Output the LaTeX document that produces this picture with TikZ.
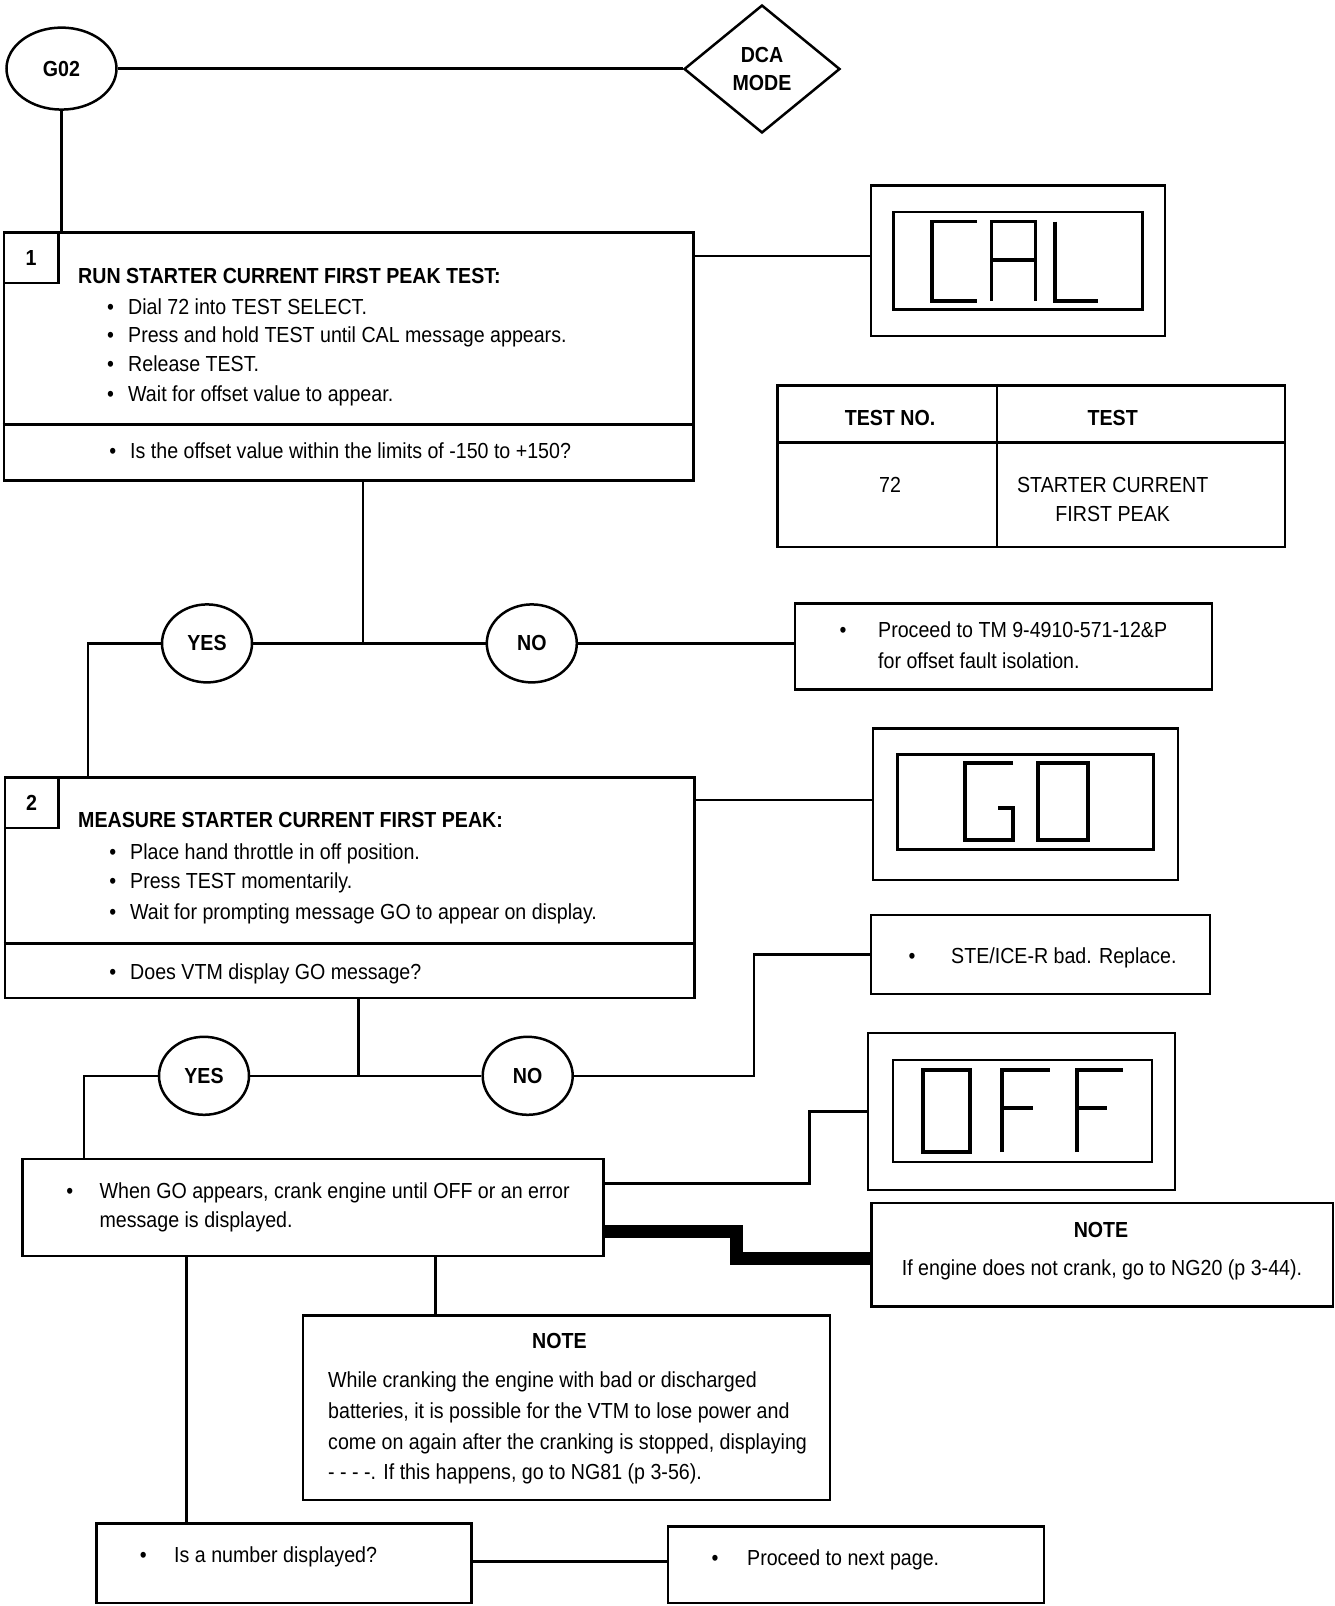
\documentclass[tikz,border=0pt]{standalone}
\usepackage{fontspec}
\setmainfont[FakeStretch=0.9]{Liberation Sans}
\usetikzlibrary{shapes.geometric}
\newcommand\myfs{\fontsize{21.8}{27.7}\selectfont}
\begin{document}
\begin{tikzpicture}[x=1pt,y=-1pt,
  bx/.style 2 args={draw, line width=2.6pt, inner sep=0pt, minimum width=#1pt, minimum height=#2pt},
  txt/.style={inner sep=0pt, anchor=mid west, font=\myfs, yshift=-5.2pt},
  hdr/.style={inner sep=0pt, anchor=mid west, font=\myfs\bfseries, yshift=-5.2pt},
  ctr/.style={inner sep=0pt, anchor=mid, font=\myfs, yshift=-5.2pt},
  ctrb/.style={inner sep=0pt, anchor=mid, font=\myfs\bfseries, yshift=-5.2pt},
  bul/.style={inner sep=0pt, anchor=mid, font=\myfs, yshift=-5.2pt},
  ell/.style={draw, ellipse, line width=2.5pt, inner sep=0pt, minimum width=90pt, minimum height=78pt, font=\myfs\bfseries},
  ln/.style={line width=2.4pt},
  seg/.style={line width=3.4pt, line join=miter},
  thick/.style={line width=13pt, line join=miter}]
\useasboundingbox (0,0) rectangle (1335,1606);
\fill[white] (0,0) rectangle (1335,1606);

% --- top
\node[ell, minimum width=110pt, minimum height=82pt] (g02) at (61.5,68.6) {G02};
\node[draw, diamond, aspect=1.22, line width=2.5pt, inner sep=0pt, minimum width=156pt, minimum height=128pt, align=center, font=\myfs\bfseries] (dca) at (762,69) {DCA\\MODE};
\draw[ln] (g02.east) -- (g02.east -| dca.west);

% --- box 1
\node[bx={689.6}{247.9}] (b1) at (348.8,356.55) {};
\node[bx={54.4}{50.2}, font=\myfs\bfseries] (n1) at (31.2,257.7) {1};
\coordinate (d1) at (0,424.2);
\draw[line width=2.6pt] (b1.west |- d1) -- (b1.east |- d1);
\draw[ln] (g02.south) -- (g02.south |- b1.north);
\node[hdr] (h1) at (78,275.6) {RUN STARTER CURRENT FIRST PEAK TEST:};
\node[bul] (b1a) at (110.6,306.4) {\textbullet};
\node[txt] (t1a) at (128,306.4) {Dial 72 into TEST SELECT.};
\node[bul] (b1b) at (110.6,335) {\textbullet};
\node[txt] (t1b) at (128,335) {Press and hold TEST until CAL message appears.};
\node[bul] (b1c) at (110.6,363.7) {\textbullet};
\node[txt] (t1c) at (128,363.7) {Release TEST.};
\node[bul] (b1d) at (110.6,393.5) {\textbullet};
\node[txt] (t1d) at (128,393.5) {Wait for offset value to appear.};
\node[bul] (b1e) at (112.7,450.8) {\textbullet};
\node[txt] (t1e) at (130,450.8) {Is the offset value within the limits of -150 to +150?};

% --- CAL display
\node[bx={294}{150.5}] (cal) at (1018,260.75) {};
\node[bx={249}{97.4}] (calin) at (1018,260.7) {};
\draw[seg] (977,221.6) -- (932,221.6) -- (932,301) -- (977,301);
\draw[seg] (991.4,301) -- (991.4,221.6) -- (1035.5,221.6) -- (1035.5,301);
\draw[seg] (991.4,260) -- (1035.5,260);
\draw[seg] (1055,221.6) -- (1055,301) -- (1097.5,301);
\coordinate (c1) at (0,256.2);
\draw[ln] (b1.east |- c1) -- (cal.west |- c1);

% --- table
\node[bx={507.1}{161.9}] (tab) at (1031.25,466.15) {};
\coordinate (tc) at (997,0);
\coordinate (tr) at (0,442.6);
\draw[line width=2.4pt] (tab.north -| tc) -- (tab.south -| tc);
\draw[line width=2.4pt] (tab.west |- tr) -- (tab.east |- tr);
\node[ctrb] (th1) at (890,418) {TEST NO.};
\node[ctrb] (th2) at (1112.7,418) {TEST};
\node[ctr] (td1) at (890,484.6) {72};
\node[ctr] (td2) at (1112.7,484.6) {STARTER CURRENT};
\node[ctr] (td3) at (1112.7,514) {FIRST PEAK};

% --- branch 1
\coordinate (j1) at (362.7,643.4);
\coordinate (k1) at (88,643.4);
\node[ell] (yes1) at (207,643.4) {YES};
\node[ell] (no1) at (531.8,643.4) {NO};
\draw[ln] (b1.south -| j1) -- (j1);
\draw[ln] (yes1.east) -- (no1.west);
\node[bx={417}{86.1}] (tm) at (1003.5,646.55) {};
\draw[ln] (no1.east) -- (no1.east -| tm.west);
\node[bul] (btm) at (843,630) {\textbullet};
\node[txt] (ttm1) at (878,630) {Proceed to TM 9-4910-571-12\&P};
\node[txt] (ttm2) at (878,661) {for offset fault isolation.};

% --- box 2
\node[bx={689.7}{220.3}] (b2) at (349.85,887.85) {};
\node[bx={53.4}{50.3}, font=\myfs\bfseries] (n2) at (31.7,802.85) {2};
\coordinate (d2) at (0,943.7);
\draw[line width=2.6pt] (b2.west |- d2) -- (b2.east |- d2);
\draw[ln] (yes1.west) -- (k1) -- (k1 |- b2.north);
\node[hdr] (h2) at (78,819.7) {MEASURE STARTER CURRENT FIRST PEAK:};
\node[bul] (b2a) at (112.7,851.4) {\textbullet};
\node[txt] (t2a) at (130,851.4) {Place hand throttle in off position.};
\node[bul] (b2b) at (112.7,881) {\textbullet};
\node[txt] (t2b) at (130,881) {Press TEST momentarily.};
\node[bul] (b2c) at (112.7,912) {\textbullet};
\node[txt] (t2c) at (130,912) {Wait for prompting message GO to appear on display.};
\node[bul] (b2d) at (112.7,971.3) {\textbullet};
\node[txt] (t2d) at (130,971.3) {Does VTM display GO message?};

% --- GO display
\node[bx={305}{151.5}] (go) at (1025.5,804.25) {};
\node[bx={256}{95}] (goin) at (1025.5,802) {};
\draw[seg] (1013,763) -- (965,763) -- (965,840) -- (1013,840) -- (1013,808) -- (998,808);
\draw[seg] (1038,763) rectangle (1088,840);
\coordinate (c2) at (0,800);
\draw[ln] (b2.east |- c2) -- (go.west |- c2);

% --- branch 2
\coordinate (j2) at (358.6,1075.8);
\coordinate (k2) at (84,1075.8);
\coordinate (m2) at (754,1075.8);
\node[ell] (yes2) at (204,1075.8) {YES};
\node[ell] (no2) at (527.7,1075.8) {NO};
\draw[ln] (b2.south -| j2) -- (j2);
\draw[ln] (yes2.east) -- (no2.west);
\node[bx={339}{79}] (ste) at (1040.5,954.5) {};
\draw[ln] (no2.east) -- (m2) |- (ste.west);
\node[bul] (bste) at (912,956) {\textbullet};
\node[txt] (tste) at (951,956) {STE/ICE-R bad. Replace.};

% --- OFF display
\node[bx={307}{157}] (off) at (1021.5,1111.5) {};
\node[bx={259}{102}] (offin) at (1022.5,1111) {};
\draw[seg] (923,1070) rectangle (970,1152);
\draw[seg] (1002,1152) -- (1002,1070) -- (1050,1070);
\draw[seg] (1002,1108) -- (1033,1108);
\draw[seg] (1077,1152) -- (1077,1070) -- (1123,1070);
\draw[seg] (1077,1108) -- (1107,1108);

% --- box 3
\node[bx={581}{97}] (b3) at (313,1207.5) {};
\draw[ln] (yes2.west) -- (k2) -- (k2 |- b3.north);
\node[bul] (b3a) at (69.7,1190.6) {\textbullet};
\node[txt] (t3a) at (99.4,1190.6) {When GO appears, crank engine until OFF or an error};
\node[txt] (t3b) at (99.4,1219.3) {message is displayed.};
\coordinate (r1) at (809.4,1183.4);
\draw[ln] (b3.east |- r1) -- (r1) |- (off.west);

% --- NOTE 1
\node[bx={461.3}{103.7}] (note1) at (1102.35,1254.85) {};
\node[ctrb] (nt1) at (1101,1229.5) {NOTE};
\node[ctr] (nt1b) at (1102,1267.4) {If engine does not crank, go to NG20 (p 3-44).};
\coordinate (q1) at (736,1231);
\coordinate (q2) at (736,1258);
\draw[thick] (b3.east |- q1) -- (q1) -- (q2) -- (q2 -| note1.west);

% --- NOTE 2
\coordinate (s1) at (186.5,0);
\coordinate (s2) at (435.5,0);
\node[bx={527}{184.4}] (note2) at (566.5,1407.8) {};
\draw[ln] (b3.south -| s2) -- (note2.north -| s2);
\node[ctrb] (nt2) at (559.4,1341) {NOTE};
\node[txt] (nt2a) at (328,1380) {While cranking the engine with bad or discharged};
\node[txt] (nt2b) at (328,1411) {batteries, it is possible for the VTM to lose power and};
\node[txt] (nt2c) at (328,1441.6) {come on again after the cranking is stopped, displaying};
\node[txt] (nt2d) at (328,1472) {- - - -. If this happens, go to NG81 (p 3-56).};

% --- bottom
\node[bx={375}{79.4}] (isnum) at (283.8,1563.3) {};
\draw[ln] (b3.south -| s1) -- (isnum.north -| s1);
\node[bul] (bis) at (143.4,1555) {\textbullet};
\node[txt] (tis) at (174,1555) {Is a number displayed?};
\node[bx={376}{76.4}] (nxt) at (856,1564.8) {};
\coordinate (u1) at (0,1561.5);
\draw[ln] (isnum.east |- u1) -- (nxt.west |- u1);
\node[bul] (bnx) at (715,1558) {\textbullet};
\node[txt] (tnx) at (747,1558) {Proceed to next page.};
\end{tikzpicture}
\end{document}
